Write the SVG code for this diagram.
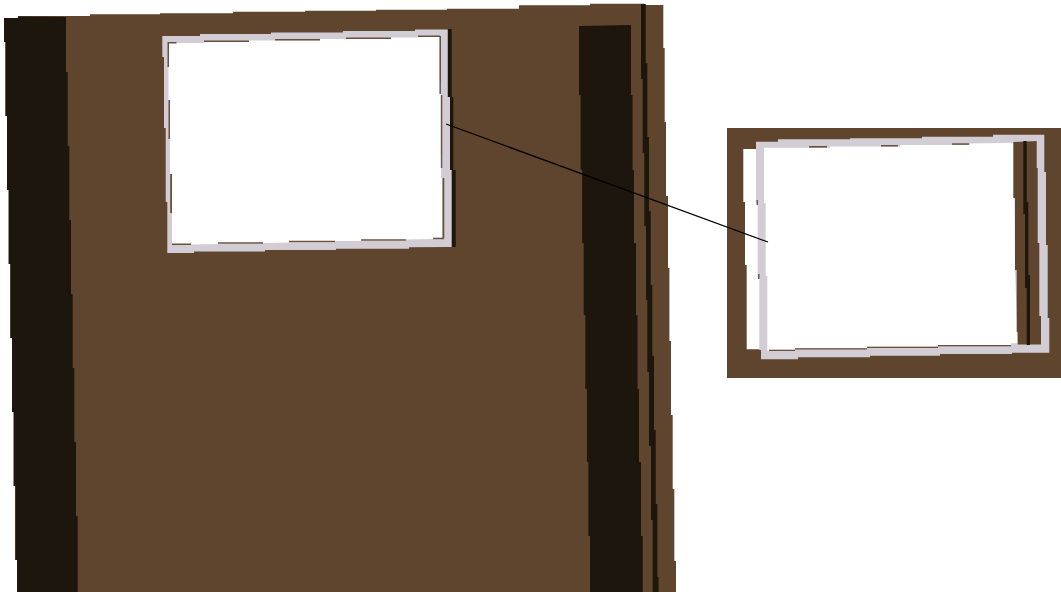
<svg xmlns="http://www.w3.org/2000/svg" width="1061" height="592" viewBox="0 0 1061 592">
<style>.b{fill:#5f442e}.d{fill:#1f150b}.f{fill:#d2cdd5}.w{fill:#fff}.s{fill:#6b4f3c}.k{fill:#5f5c64}</style>
<defs><filter id="soft" filterUnits="userSpaceOnUse" x="-10" y="-10" width="1090" height="620"><feGaussianBlur stdDeviation="0.45"/></filter></defs>
<rect width="1061" height="592" fill="#fff"/>
<g filter="url(#soft)">
<g id="door">
<polygon class="b" points="4,18 18,18 18,16 90,16 90,14.3 160,14.3 160,13.3 233,13.300 233,11.700 305,11.700 305,10.700 376,10.700 376,9.700 447,9.700 447,8.700 519,8.700 519,5.300 590,5.300 590,3.700 644,3.700 644,5 663.3,5 663.3,48 664.7,48 664.7,122 666,122 666,196 668,196 668,268 669.400,268 669.400,341 671,341 671,415 672.700,415 672.700,489 674.300,489 674.300,561 676,561 676,600 17,600 17,560 15.300,560 15.300,486 13.700,486 13.700,412 12,412 12,338 10.400,338 10.400,264 8.700,264 8.700,190 7,190 7,116 5.500,116 5.500,42 4,42"/>
<polygon class="d" points="4,18 18,18 18,16.500 66,17 66,72 67.700,72 67.700,146 69.300,146 69.300,220 71,220 71,294 72.700,294 72.700,368 74.300,368 74.300,442 76,442 76,516 77.700,516 77.700,600 17,600 17,560 15.300,560 15.300,486 13.700,486 13.700,412 12,412 12,338 10.400,338 10.400,264 8.700,264 8.700,190 7,190 7,116 5.500,116 5.500,42 4,42"/>
<polygon class="d" points="579,26 631,25 631,95 632.500,95 632.500,170 634,170 634,243 636,243 636,315 637.500,315 637.500,389 639,389 639,462 641,462 641,536 642.700,536 642.700,600 590,600 590,536 588.400,536 588.400,462 586.900,462 586.900,389 585.300,389 585.300,315 583.700,315 583.700,243 582.200,243 582.200,170 580.600,170 580.600,95 579,95"/>
<polygon class="d" points="641,4 645.700,4 645.700,63 647.300,63 647.300,137 649,137 649,211 650.700,211 650.700,285 652.300,285 652.300,356 654,356 654,430 655.700,430 655.700,504 657.300,504 657.300,577 658.500,577 658.500,600 652.700,600 652.700,520 651,520 651,446 649,446 649,372 647.300,372 647.300,300 646,300 646,226 644.300,226 644.300,153 642.700,153 642.700,79 641,79"/>
</g>
<g id="window-left">
<polygon class="d" points="447.700,29 451.700,29 451.700,97 453.300,97 453.300,170 455.700,170 455.700,247 451,247 450,170 449,97 447.700,97"/>
<polygon class="f" points="162.300,36 200,36 200,34 271,34 271,32.500 343,32.500 343,31 415,31 415,29.500 447.700,29.500 447.700,97 450,97 450,170 451.700,170 451.700,247 409,247.300 409,248.700 336,248.700 336,250 265,250 265,251.500 194,251.500 194,253 167.300,253 167.300,202 165.700,202 165.700,128 164,128 164,57 162.300,57"/>
<polygon class="w" points="168.500,43 204,43 204,42 249,42 249,40.500 320,40.500 320,39 391,39 391,37.500 418,37.500 418,36.500 439.500,36.500 439.500,94 441,94 441,178 442.500,178 442.500,238 433,239 406,239.500 406,241 361,241 335,241 335,242.500 289,242.500 263,243 263,244 218,244 191,244.500 172,244.500 172,174 170,174 170,100 168.500,100"/>
<polygon class="s" points="167.500,42 176.500,42 176.500,43.500 169,43.500 169,67 167.500,67"/>
<polygon class="s" points="204,40.500 249,40.500 249,42 204,42"/>
<polygon class="s" points="275,39 320,39 320,40.500 275,40.500"/>
<polygon class="s" points="346,37.500 391,37.500 391,39 346,39"/>
<polygon class="s" points="418,35.500 440,35.500 440,37 418,37"/>
<rect class="s" x="168.500" y="100" width="1.500" height="39"/>
<rect class="s" x="170.200" y="174" width="1.800" height="39"/>
<rect class="s" x="439.500" y="36" width="1.500" height="46"/>
<rect class="k" x="439.500" y="82" width="1.500" height="12"/>
<rect class="s" x="440.800" y="95" width="1.500" height="60"/>
<rect class="k" x="440.800" y="155" width="1.500" height="13"/>
<rect class="s" x="442.500" y="178" width="1.800" height="60"/>
<polygon class="s" points="172,243.500 191,243.500 191,245 172,245"/>
<polygon class="s" points="218,242.300 263,242.300 263,243.800 218,243.800"/>
<polygon class="s" points="289,240.800 335,240.800 335,242.300 289,242.300"/>
<polygon class="s" points="361,239.300 406,239.300 406,240.800 361,240.800"/>
<polygon class="s" points="433,237.700 444,237.700 444,239.200 433,239.200"/>
</g>
<g id="window-right">
<rect class="b" x="727" y="128" width="345" height="250"/>
<polygon class="w" points="743.300,149 770,149 770,349.300 746.700,349.300 746.700,265 745,265 745,202 743.300,202"/>
<polygon class="f" points="756,141.700 778,141.700 778,139.300 850,139.300 850,138.300 922,138.300 922,136.700 993,136.700 993,134.700 1044.300,134.700 1044.300,172 1046,172 1046,245 1047.700,245 1047.700,318 1049.300,318 1049.300,352.700 1012,352.700 1012,354 940,354 940,355.700 870,355.700 870,357.300 798,357.300 798,359.300 761,359.300 761,350 759.300,350 759.300,276 757.700,276 757.700,203 756,203"/>
<polygon class="w" points="764,147.700 830,147.700 830,146.500 900,146.500 900,145 970,145 970,143.500 1014,142.700 1015,270 1017.700,343.300 1011,343.300 1011,345 938,345 938,346.700 867,346.700 867,348.300 795,348.300 795,350.700 769,350.700 767.300,350.700 767.300,276 765.700,276 765.700,203 764,203"/>
<polygon class="b" points="1013.300,142 1036.700,141 1036.700,168 1037.700,168 1037.700,243 1039.300,243 1039.300,316 1041,316 1041,344.500 1017.700,344.500 1017.700,332 1016.700,332 1016.700,270 1015,270 1015,198 1013.300,198"/>
<polygon class="d" points="1023.300,141 1026.700,141 1026.700,202 1028.300,202 1028.300,275 1030,275 1030,345 1026.700,345 1026.700,288 1025,288 1025,214 1023.300,214"/>
<rect class="s" x="809" y="146" width="18" height="1.600"/>
<rect class="s" x="881" y="145" width="17" height="1.500"/>
<rect class="s" x="952" y="143.300" width="17" height="1.500"/>
<rect class="s" x="769" y="349.700" width="26" height="1.300"/>
<rect class="s" x="795" y="348.200" width="72" height="1.300"/>
<rect class="s" x="867" y="346.700" width="71" height="1.300"/>
<rect class="s" x="938" y="345" width="73" height="1.300"/>
<rect class="k" x="756.500" y="200" width="1.500" height="5"/>
<rect class="k" x="758" y="274" width="1.500" height="5"/>
</g>
<g id="connectors">
<line x1="446" y1="124" x2="768" y2="242" stroke="#000" stroke-width="1.200"/>
</g>
</g>
</svg>
